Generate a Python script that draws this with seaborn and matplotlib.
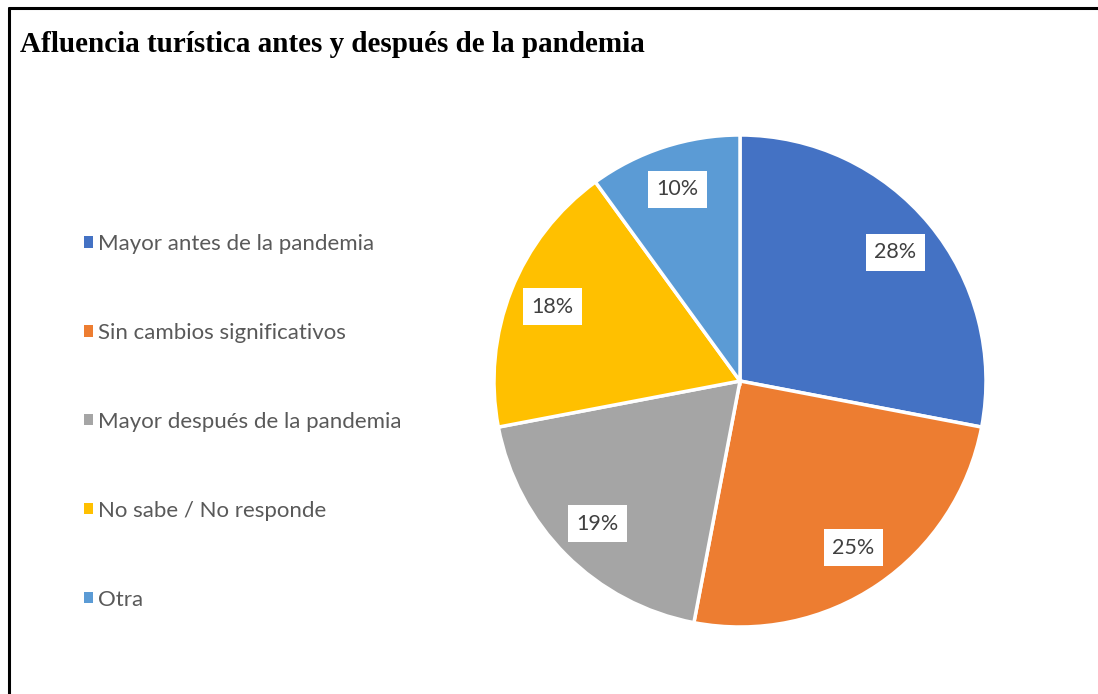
import matplotlib
matplotlib.use("Agg")
import matplotlib.pyplot as plt
import seaborn as sns
from matplotlib.lines import Line2D
from matplotlib.patches import Patch

categories = ["Mayor antes de la pandemia", "Sin cambios significativos",
              "Mayor después de la pandemia", "No sabe / No responde", "Otra"]
shares = [28, 25, 19, 18, 10]
colors = ["#4472C4", "#ED7D31", "#A5A5A5", "#FFC000", "#5B9BD5"]
title = "Afluencia turística antes y después de la pandemia"

sns.set_theme(style="white")
plt.rcParams["font.family"] = ["Lato", "DejaVu Sans"]

W, H = 1098, 694
fig = plt.figure(figsize=(W / 100, H / 100), dpi=100)
fig.patch.set_facecolor("white")

# pie axes, placed in pixel terms
cx, cy, r = 740, 381, 246
ax = fig.add_axes([(cx - r) / W, 1 - (cy + r) / H, 2 * r / W, 2 * r / H])
wedges, _, autotexts = ax.pie(
    shares, colors=colors, startangle=90, counterclock=False,
    autopct="%d%%", pctdistance=0.82,
    wedgeprops=dict(edgecolor="white", linewidth=2.5),
    textprops=dict(fontsize=15.5, color="#404040"),
)
for t in autotexts:
    t.set_bbox(dict(boxstyle="square,pad=0.4", facecolor="white", edgecolor="none"))
ax.set_xlim(-1, 1)
ax.set_ylim(-1, 1)
ax.set_aspect("equal")

# legend on the left
handles = [Patch(facecolor=c, edgecolor="none") for c in colors]
leg = fig.legend(handles, categories, loc="upper left",
                 bbox_to_anchor=(84 / W, 1 - 234 / H), frameon=False,
                 fontsize=16, labelcolor="#595959", handlelength=0.4,
                 handleheight=0.4, handletextpad=0.25, labelspacing=3.1,
                 borderpad=0, borderaxespad=0)

fig.text(20 / W, 1 - 45 / H, title, fontsize=21, fontweight="bold",
         family="Liberation Serif", va="center", ha="left", color="black")

# frame lines (left and top only are visible)
fig.add_artist(Line2D([9 / W, 9 / W], [0, 1 - 8 / H], transform=fig.transFigure,
                      color="black", linewidth=2.2))
fig.add_artist(Line2D([9 / W, 1], [1 - 8 / H, 1 - 8 / H], transform=fig.transFigure,
                      color="black", linewidth=2.2))

fig.savefig("out.png", dpi=100, facecolor="white")
